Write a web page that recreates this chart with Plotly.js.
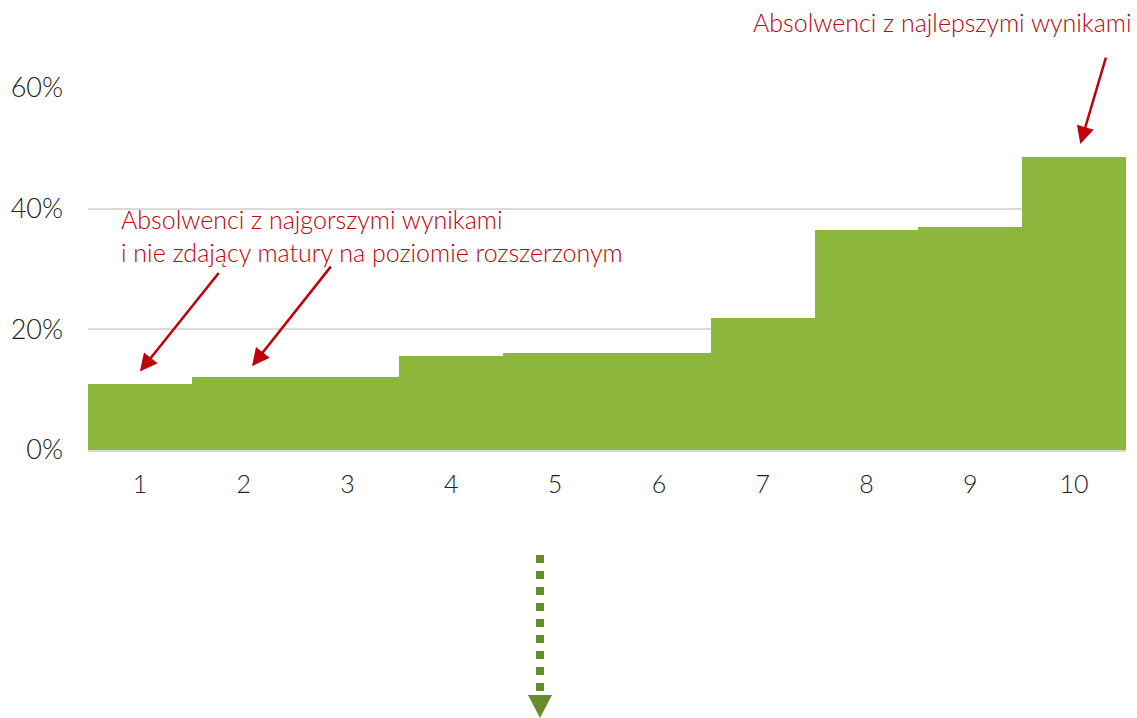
<!DOCTYPE html>
<html>
<head>
<meta charset="utf-8">
<script src="https://cdn.plot.ly/plotly-3.0.1.min.js"></script>
<style>html,body{margin:0;padding:0;background:#fff;}#chart{width:1137px;height:718px;}</style>
</head>
<body>
<div id="chart"></div>
<script>
const deciles = [1, 2, 3, 4, 5, 6, 7, 8, 9, 10];
const tickLabels = ["1", "2", "3", "4", "5", "6", "7", "8", "9", "10"];
const shares = [11.0, 12.1, 12.1, 15.6, 16.1, 16.1, 21.9, 36.5, 37.0, 48.5];
const yTicks = [0, 20, 40, 60];
const yTickText = ["0%", "20%", "40%", "60%"];
const noteWorst = "Absolwenci z najgorszymi wynikami<br>i nie zdający matury na poziomie rozszerzonym";
const noteBest = "Absolwenci z najlepszymi wynikami";

const RED = "#c0000a";
const FONT = "Lato, Roboto, 'DejaVu Sans', sans-serif";
const W = 300;

const trace = {
  type: "bar",
  x: deciles,
  y: shares,
  width: 1,
  marker: {color: "#8db63c", line: {width: 0}},
  hoverinfo: "skip"
};

const px2paperX = p => (p - 88) / 1038;
const px2paperY = p => (450 - p) / 362;

const layout = {
  width: 1137, height: 718,
  margin: {l: 88, r: 11, t: 88, b: 268},
  paper_bgcolor: "#fff", plot_bgcolor: "#fff",
  showlegend: false,
  bargap: 0,
  font: {family: FONT, size: 25, color: "#222", weight: W},
  xaxis: {
    range: [0.5, 10.5],
    tickmode: "array", tickvals: deciles, ticktext: tickLabels,
    showgrid: false, zeroline: false, showline: true,
    linecolor: "#d9d9d9", linewidth: 2,
    ticks: "", ticklabelstandoff: 11,
    tickfont: {family: FONT, size: 25, color: "#222", weight: W},
    fixedrange: true
  },
  yaxis: {
    range: [0, 60],
    tickmode: "array", tickvals: yTicks, ticktext: yTickText,
    showgrid: true, gridcolor: "#d9d9d9", gridwidth: 2,
    zeroline: false, showline: false,
    ticks: "", ticklabelstandoff: 24,
    tickfont: {family: FONT, size: 27, color: "#222", weight: W},
    fixedrange: true
  },
  annotations: [
    {x: px2paperX(1134), y: px2paperY(22), xref: "paper", yref: "paper", text: noteBest, showarrow: false,
     xanchor: "right", yanchor: "middle", font: {family: FONT, size: 25, color: RED, weight: W}},
    {x: px2paperX(119), y: px2paperY(236), xref: "paper", yref: "paper", text: noteWorst, showarrow: false, align: "left",
     xanchor: "left", yanchor: "middle", font: {family: FONT, size: 25, color: RED, weight: W}},
    {x: 1.0, y: 13.0, xref: "x", yref: "y", text: "", showarrow: true,
     ax: 80, ay: -100, arrowhead: 2, arrowsize: 1.4, arrowwidth: 2.5, arrowcolor: RED, standoff: 0},
    {x: 2.08, y: 13.9, xref: "x", yref: "y", text: "", showarrow: true,
     ax: 80, ay: -101, arrowhead: 2, arrowsize: 1.4, arrowwidth: 2.5, arrowcolor: RED, standoff: 0},
    {x: 10.06, y: 50.7, xref: "x", yref: "y", text: "", showarrow: true,
     ax: 26, ay: -88, arrowhead: 2, arrowsize: 1.4, arrowwidth: 2.5, arrowcolor: RED, standoff: 0}
  ],
  shapes: [
    {type: "line", xref: "paper", yref: "paper",
     x0: px2paperX(540), x1: px2paperX(540),
     y0: px2paperY(555), y1: px2paperY(691),
     line: {color: "#6a8b2a", width: 8, dash: "8px,8px"}},
    {type: "path", xref: "paper", yref: "paper",
     path: "M " + px2paperX(528) + " " + px2paperY(695) +
           " L " + px2paperX(552) + " " + px2paperY(695) +
           " L " + px2paperX(540) + " " + px2paperY(718) + " Z",
     fillcolor: "#6a8b2a", line: {width: 0}}
  ]
};

Plotly.newPlot("chart", [trace], layout, {displayModeBar: false, staticPlot: true});
</script>
</body>
</html>
